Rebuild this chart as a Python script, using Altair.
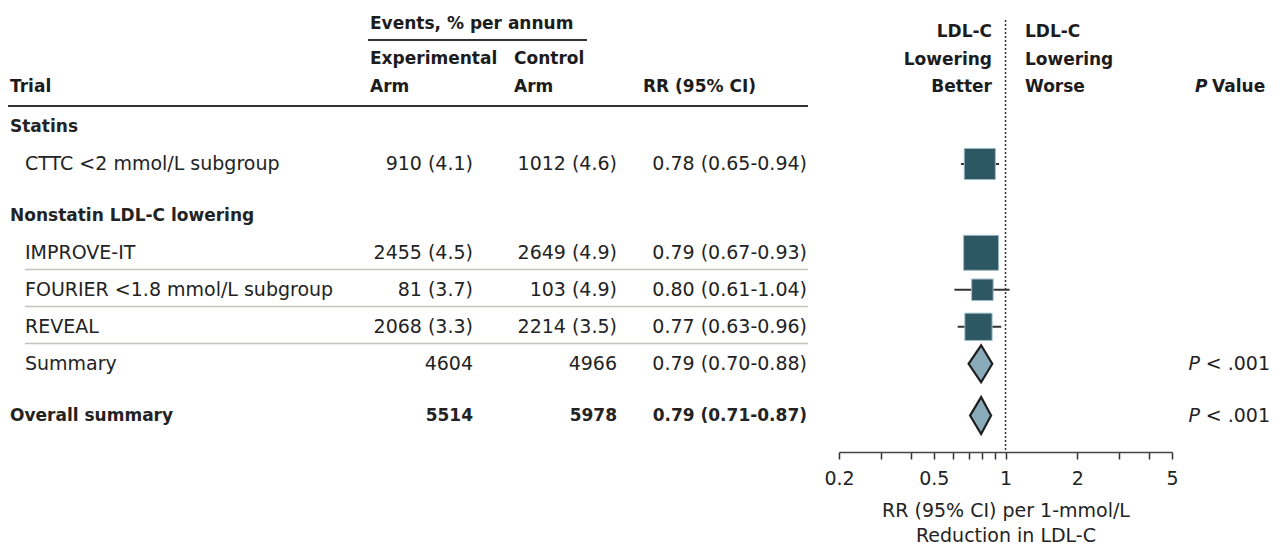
import math
import altair as alt
import pandas as pd

# ---------------- data ----------------
row_labels = ["Statins", "CTTC <2 mmol/L subgroup", "Nonstatin LDL-C lowering",
              "IMPROVE-IT", "FOURIER <1.8 mmol/L subgroup", "REVEAL", "Summary",
              "Overall summary"]
row_kind = ["group", "trial", "group", "trial", "trial", "trial", "summary", "overall"]
row_gap_before = [0, 0, 1, 0, 0, 0, 0, 1]
exp_arm = ["", "910 (4.1)", "", "2455 (4.5)", "81 (3.7)", "2068 (3.3)", "4604", "5514"]
ctrl_arm = ["", "1012 (4.6)", "", "2649 (4.9)", "103 (4.9)", "2214 (3.5)", "4966", "5978"]
rr = [None, 0.78, None, 0.79, 0.80, 0.77, 0.79, 0.79]
rr_lo = [None, 0.65, None, 0.67, 0.61, 0.63, 0.70, 0.71]
rr_hi = [None, 0.94, None, 0.93, 1.04, 0.96, 0.88, 0.87]
p_text = ["", "", "", "", "", "", "< .001", "< .001"]
separator_after = ["IMPROVE-IT", "FOURIER <1.8 mmol/L subgroup", "REVEAL"]

tick_values = [0.2, 0.3, 0.4, 0.5, 0.6, 0.7, 0.8, 0.9, 1, 2, 3, 4, 5]
label_values = [0.2, 0.5, 1, 2, 5]

# ---------------- styles ----------------
FONT = "DejaVu Sans"
FS = 19
FSB = 17
TXT = "#232323"
HTXT = "#1c1c1c"
SQ_FILL = "#2c5763"
SQ_STROKE = "#9fbcc6"
DIA_FILL = "#89aab8"

# ---------------- tables ----------------
pos = []
acc = 0.0
for i, g in enumerate(row_gap_before):
    acc += 0.4 * g
    pos.append(i + acc)

def fmt_rr(e, lo, hi):
    if e is None:
        return ""
    return f"{e:.2f} ({lo:.2f}-{hi:.2f})"

rows = pd.DataFrame({
    "label": row_labels,
    "kind": row_kind,
    "pos": pos,
    "exp": exp_arm,
    "ctrl": ctrl_arm,
    "rrtxt": [fmt_rr(e, l, h) for e, l, h in zip(rr, rr_lo, rr_hi)],
    "p": p_text,
    "rr": rr, "lo": rr_lo, "hi": rr_hi,
})
rows["bold"] = rows["kind"].isin(["group", "overall"])
rows["indent"] = rows["kind"].isin(["trial", "summary"])

trials = rows[rows["kind"] == "trial"].copy()
trials["w"] = 1.0 / (trials["hi"].apply(math.log) - trials["lo"].apply(math.log)) ** 2
wmax = trials["w"].max()

diam_rows = rows[rows["kind"].isin(["summary", "overall"])]

# ---------------- scales ----------------
xscale = alt.Scale(type="log", domain=[0.2, 5], range=[831, 1164], nice=False)
yscale = alt.Scale(domain=[0, 8], range=[119, 415], nice=False, zero=False)

label_expr = ("indexof([" + ",".join(str(v) for v in label_values) +
              "], datum.value) >= 0 ? format(datum.value, '~g') : ''")
xaxis = alt.Axis(values=tick_values, labelExpr=label_expr, grid=False,
                 domainColor="#444444", domainWidth=1.5, tickColor="#333333",
                 tickWidth=1.5, tickSize=7, labelFont=FONT, labelFontSize=FS,
                 labelColor=TXT, labelPadding=10, labelFlush=False,
                 labelOverlap=False,
                 title=["RR (95% CI) per 1-mmol/L", "Reduction in LDL-C"],
                 titleFont=FONT, titleFontSize=FS, titleFontWeight="normal",
                 titleColor=TXT, titleLineHeight=25, titlePadding=13)

def X(field):
    return alt.X(field, type="quantitative", scale=xscale, axis=xaxis)

def Y(field):
    return alt.Y(field, type="quantitative", scale=yscale, axis=None, stack=None)

layers = []

# CI lines
layers.append(alt.Chart(trials).mark_rule(color="#333333", strokeWidth=2).encode(
    x=X("lo"), x2="hi:Q", y=Y("pos")))

# squares
layers.append(alt.Chart(trials).mark_square(opacity=1, fill=SQ_FILL, stroke=SQ_STROKE,
                                            strokeWidth=1).encode(
    x=X("rr"), y=Y("pos"),
    size=alt.Size("w:Q", scale=alt.Scale(domain=[0, wmax], range=[0, 1225]), legend=None)))

# diamonds: horizontal areas, one layer per diamond
for _, r in diam_rows.iterrows():
    d = pd.DataFrame({
        "yv": [r["pos"] - 0.5, r["pos"], r["pos"] + 0.5],
        "xl": [r["rr"], r["lo"], r["rr"]],
        "xr": [r["rr"], r["hi"], r["rr"]],
    })
    layers.append(alt.Chart(d).mark_area(fill=DIA_FILL, stroke="#1e1e1e", strokeWidth=2.2,
                                         opacity=1, interpolate="linear",
                                         orient="horizontal").encode(
        y=Y("yv"),
        x=alt.X("xl", type="quantitative", scale=xscale, axis=xaxis, stack=None),
        x2="xr:Q"))

# null line (dotted)
layers.append(alt.Chart(pd.DataFrame({"v": [1]})).mark_rule(
    color="#333333", strokeWidth=1.5, strokeDash=[2, 2]).encode(
    x=X("v"), y=alt.value(12), y2=alt.value(444)))

# separators
seps = rows[rows["label"].isin(separator_after)][["pos"]].copy()
seps["sy"] = seps["pos"] + 0.45
layers.append(alt.Chart(seps).mark_rule(color="#c5c3ba", strokeWidth=1.5).encode(
    x=alt.value(17), x2=alt.value(800), y=Y("sy")))

# header rules
layers.append(alt.Chart(pd.DataFrame({"k": ["events"]})).mark_rule(color="#333333", strokeWidth=2).encode(
    x=alt.value(360), x2=alt.value(579), y=alt.value(32)))
layers.append(alt.Chart(pd.DataFrame({"k": ["main"]})).mark_rule(color="#333333", strokeWidth=2).encode(
    x=alt.value(0), x2=alt.value(800), y=alt.value(98)))

# table text
def col_text(df, field, xpx, align):
    enc = dict(x=alt.value(xpx), y=Y("pos"), text=f"{field}:N")
    return [
        alt.Chart(df[~df["bold"]]).mark_text(align=align, baseline="middle", font=FONT,
                                             fontSize=FS, color=TXT).encode(**enc),
        alt.Chart(df[df["bold"]]).mark_text(align=align, baseline="middle", font=FONT,
                                            fontSize=FSB, color=TXT, fontWeight="bold").encode(**enc),
    ]

layers += col_text(rows[~rows["indent"]], "label", 2, "left")
layers += col_text(rows[rows["indent"]], "label", 17, "left")
layers += col_text(rows, "exp", 465, "right")
layers += col_text(rows, "ctrl", 609, "right")
layers += col_text(rows, "rrtxt", 799, "right")
prow = rows[rows["p"] != ""]
layers.append(alt.Chart(prow).mark_text(align="right", baseline="middle", font=FONT, fontSize=FS,
                                        color=TXT, fontStyle="italic", text="P").encode(
    x=alt.value(1192), y=Y("pos")))
layers.append(alt.Chart(prow).mark_text(align="right", baseline="middle", font=FONT, fontSize=FS,
                                        color=TXT).encode(
    x=alt.value(1262), y=Y("pos"), text="p:N"))

# headers
def htext(t, xpx, ypx, align="left", style="normal"):
    return alt.Chart(pd.DataFrame({"t": [t]})).mark_text(
        align=align, baseline="middle", font=FONT, fontSize=FSB, color=HTXT,
        fontWeight="bold", fontStyle=style).encode(
        x=alt.value(xpx), y=alt.value(ypx), text="t:N")

layers += [
    htext("Trial", 2, 79),
    htext("Events, % per annum", 362, 16),
    htext("Experimental", 362, 51),
    htext("Arm", 362, 79),
    htext("Control", 506, 51),
    htext("Arm", 506, 79),
    htext("RR (95% CI)", 635, 79),
    htext("LDL-C", 984, 24, align="right"),
    htext("Lowering", 984, 52, align="right"),
    htext("Better", 984, 79, align="right"),
    htext("LDL-C", 1017, 24),
    htext("Lowering", 1017, 52),
    htext("Worse", 1017, 79),
    htext("P", 1187, 79, style="italic"),
    htext("Value", 1204, 79),
]

chart = alt.layer(*layers).properties(
    width=1264, height=444,
    autosize=alt.AutoSizeParams(type="none"),
    padding={"left": 0, "top": 0, "right": 0, "bottom": 93},
).configure(background="white").configure_view(stroke=None)

chart.save("out.html", embed_options={"renderer": "svg", "actions": False})
